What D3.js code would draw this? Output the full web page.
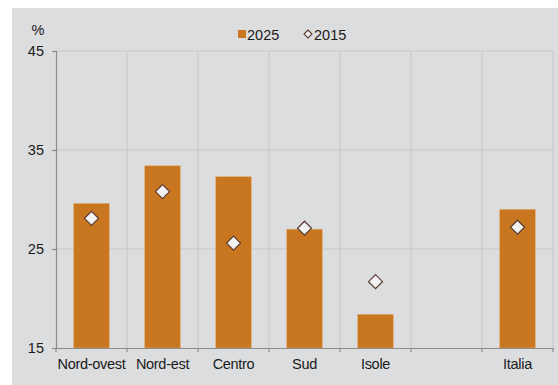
<!DOCTYPE html>
<html>
<head>
<meta charset="utf-8">
<script src="https://cdn.jsdelivr.net/npm/d3@7"></script>
<style>
  html, body { margin: 0; padding: 0; background: #ffffff; }
  svg { display: block; font-family: "Liberation Sans", Arial, sans-serif; }
</style>
</head>
<body>
<svg id="chart" width="558" height="385"></svg>
<script>
// Regional shares (%), 2025 bars vs 2015 markers
const categories = ["Nord-ovest", "Nord-est", "Centro", "Sud", "Isole", "", "Italia"];
const values2025 = [29.6, 33.4, 32.3, 27.0, 18.4, null, 29.0];
const values2015 = [28.1, 30.8, 25.6, 27.1, 21.7, null, 27.2];
const yTicks = [15, 25, 35, 45];
const seriesNames = ["2025", "2015"];

const W = 558, H = 385;
const margin = { left: 56, right: 5, top: 51, bottom: 37 };
const barColor = "#C8761F";
const panelColor = "#DCDDDF";
const gridColor = "#C6C7C9";
const axisColor = "#8C8C8C";
const diamondStroke = "#5B3B32";
const textColor = "#1a1a1a";
const fontSize = 14.5;

const svg = d3.select("#chart");

// grey panel
svg.append("rect").attr("x", 12).attr("y", 8).attr("width", W - 12).attr("height", H - 8)
  .attr("fill", panelColor);

const x = d3.scaleBand().domain(d3.range(categories.length))
  .range([margin.left, W - margin.right]).paddingInner(0).paddingOuter(0);
const y = d3.scaleLinear().domain([15, 45]).range([H - margin.bottom, margin.top]);

// horizontal gridlines
svg.append("g").selectAll("line").data(yTicks.filter(d => d > 15)).join("line")
  .attr("x1", margin.left).attr("x2", W - margin.right)
  .attr("y1", d => y(d)).attr("y2", d => y(d))
  .attr("stroke", gridColor).attr("stroke-width", 1);

// vertical gridlines at category boundaries
const bounds = d3.range(1, categories.length + 1).map(i => margin.left + i * x.step());
svg.append("g").selectAll("line").data(bounds).join("line")
  .attr("x1", d => d).attr("x2", d => d)
  .attr("y1", y(45)).attr("y2", y(15))
  .attr("stroke", gridColor).attr("stroke-width", 1);

// bars
const barW = x.step() * 0.5;
svg.append("g").selectAll("rect").data(values2025.map((v, i) => ({ v, i })).filter(d => d.v != null))
  .join("rect")
  .attr("x", d => x(d.i) + (x.bandwidth() - barW) / 2)
  .attr("y", d => y(d.v))
  .attr("width", barW)
  .attr("height", d => y(15) - y(d.v))
  .attr("fill", barColor)
  .attr("stroke", "#E2A868").attr("stroke-width", 0.6);

// diamonds
const diamond = (r) => `M0,${-r}L${r},0L0,${r}L${-r},0Z`;
svg.append("g").selectAll("path").data(values2015.map((v, i) => ({ v, i })).filter(d => d.v != null))
  .join("path")
  .attr("d", diamond(7))
  .attr("transform", d => `translate(${x(d.i) + x.bandwidth() / 2},${y(d.v)})`)
  .attr("fill", "#F2F2F2")
  .attr("stroke", diamondStroke).attr("stroke-width", 1.2);

// y axis
const yAxis = d3.axisLeft(y).tickValues(yTicks).tickSize(4).tickPadding(8);
const gy = svg.append("g").attr("transform", `translate(${margin.left},0)`).call(yAxis);
gy.select(".domain").attr("stroke", axisColor).attr("stroke-width", 1.2);
gy.selectAll(".tick line").attr("stroke", axisColor).attr("stroke-width", 1.2);
gy.selectAll(".tick text").attr("font-size", fontSize).attr("fill", textColor)
  .attr("font-family", "'Liberation Sans', Arial, sans-serif");

// x axis
const xAxis = d3.axisBottom(x).tickFormat(i => categories[i]).tickSize(0).tickPadding(11);
const gx = svg.append("g").attr("transform", `translate(0,${y(15)})`).call(xAxis);
gx.select(".domain").attr("stroke", axisColor).attr("stroke-width", 1.2);
gx.selectAll(".tick text").attr("font-size", fontSize).attr("fill", textColor)
  .attr("font-family", "'Liberation Sans', Arial, sans-serif")
  .attr("letter-spacing", "-0.3px");
// boundary tick marks below the axis
svg.append("g").selectAll("line").data([margin.left].concat(bounds)).join("line")
  .attr("x1", d => d).attr("x2", d => d)
  .attr("y1", y(15)).attr("y2", y(15) + 4)
  .attr("stroke", axisColor).attr("stroke-width", 1.2);

// unit label
svg.append("text").attr("x", 38).attr("y", 35).attr("text-anchor", "middle")
  .attr("font-size", fontSize).attr("fill", textColor).text("%");

// legend
const lg = svg.append("g");
lg.append("rect").attr("x", 238).attr("y", 30).attr("width", 8).attr("height", 8).attr("fill", barColor);
lg.append("text").attr("x", 247).attr("y", 39.5).attr("font-size", fontSize).attr("fill", textColor).text(seriesNames[0]);
lg.append("path").attr("d", diamond(4)).attr("transform", "translate(308,34)")
  .attr("fill", "#F2F2F2").attr("stroke", diamondStroke).attr("stroke-width", 1.1);
lg.append("text").attr("x", 314).attr("y", 39.5).attr("font-size", fontSize).attr("fill", textColor).text(seriesNames[1]);
</script>
</body>
</html>
